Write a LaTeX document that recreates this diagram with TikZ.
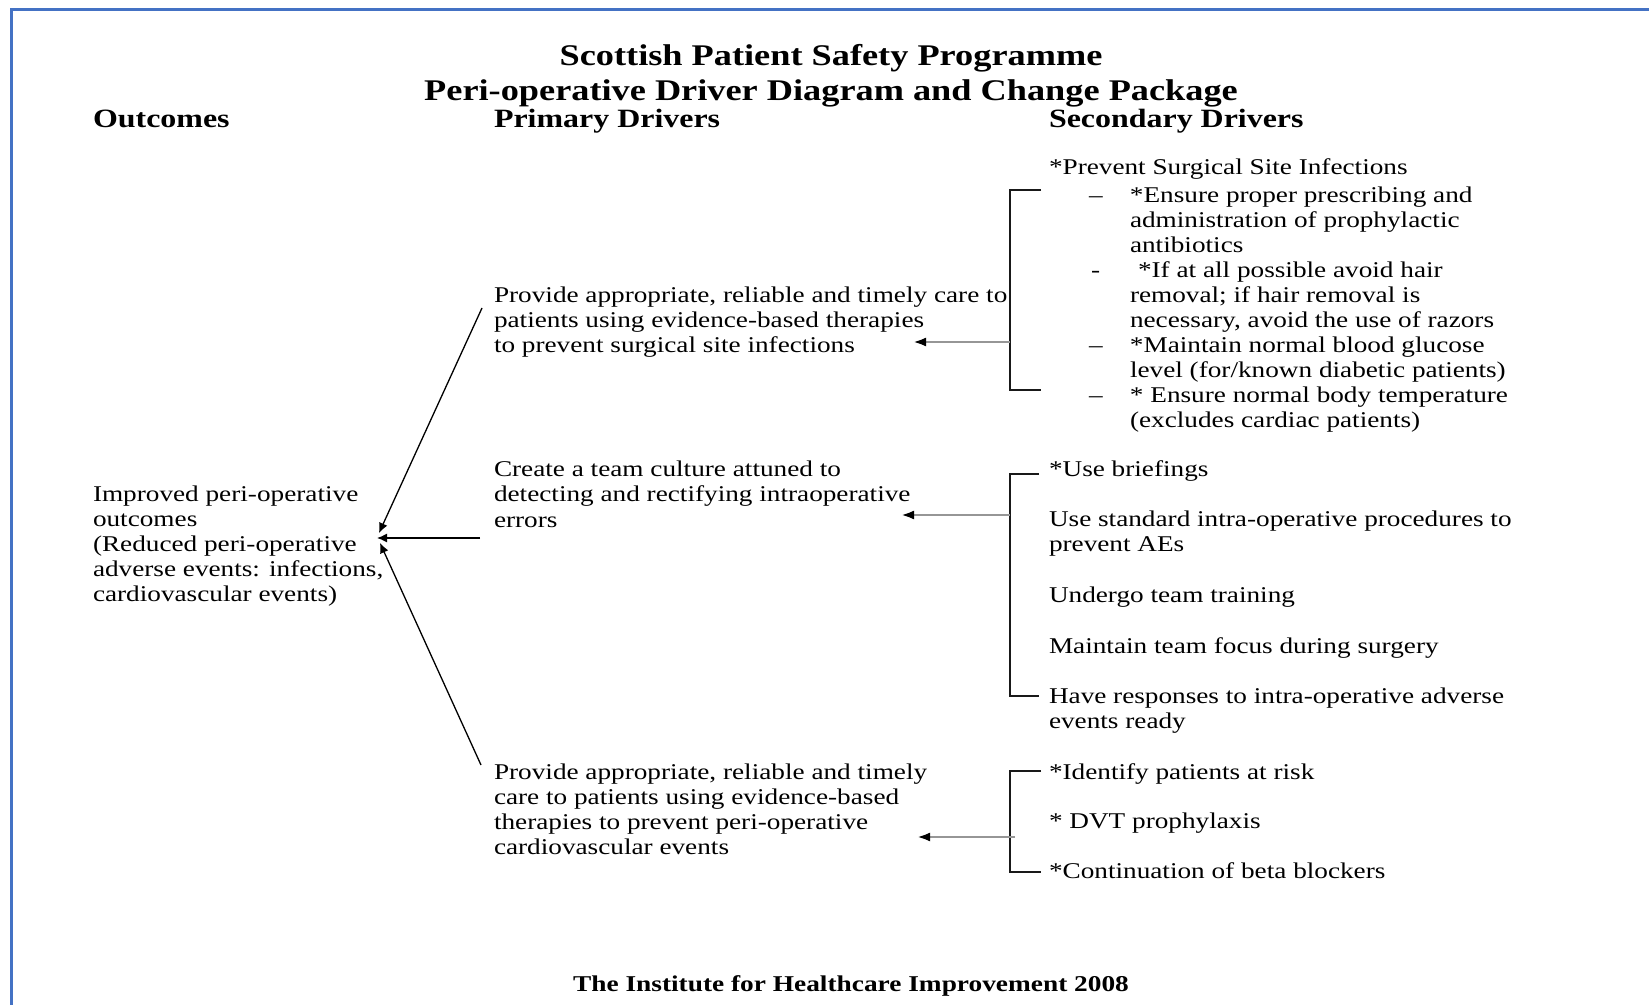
\documentclass[tikz,border=0pt]{standalone}
\usepackage{fontspec}
\setmainfont[FakeStretch=1.21]{Liberation Serif}
\usetikzlibrary{arrows.meta}
\definecolor{frameblue}{RGB}{68,114,196}
\definecolor{arrowgray}{RGB}{150,150,150}
\newcommand{\bodyfont}{\fontsize{11.25}{12.5}\selectfont}
\newcommand{\titlefont}{\fontsize{15}{17.25}\selectfont\bfseries}
\newcommand{\headfont}{\fontsize{13.2}{15}\selectfont\bfseries}
\newcommand{\footfont}{\fontsize{11.3}{13}\selectfont\bfseries}
\begin{document}
\begin{tikzpicture}[x=0.5pt,y=-0.5pt,
  txt/.style={inner sep=0pt,outer sep=0pt,align=left,font=\bodyfont},
  ttl/.style={inner sep=0pt,outer sep=0pt,font=\titlefont},
  head/.style={inner sep=0pt,outer sep=0pt,font=\headfont},
  foot/.style={inner sep=0pt,outer sep=0pt,font=\footfont},
  blackarrow/.style={draw=black,line width=0.65pt,-{Latex[length=5pt,width=4.5pt]}},
  grayarrow/.style={draw=arrowgray,line width=1.4pt,-{Latex[length=6.5pt,width=4.5pt,color=black]}},
  bracket/.style={draw=black!90,line width=1pt},
  frame/.style={draw=frameblue,line width=1.5pt}]
\useasboundingbox[fill=white] (0,0) rectangle (1649,1005);
\draw[frame] (11.5,1005) -- (11.5,10) -- (1649,10);

% titles and headings
\node[ttl,anchor=base] (t1) at (831,66) {Scottish Patient Safety Programme};
\node[ttl,anchor=base] (t2) at (831,100.5) {Peri-operative Driver Diagram and Change Package};
\node[head,anchor=base west] (hout) at (93,128) {Outcomes};
\node[head,anchor=base west] (hpri) at (494,128) {Primary Drivers};
\node[head,anchor=base west] (hsec) at (1049,128) {Secondary Drivers};

% outcome
\node[txt,anchor=north west] (out) at (93,483.5) {\strut Improved peri-operative\\outcomes\\(Reduced peri-operative\\adverse events: infections,\\cardiovascular events)};

% primary drivers
\node[txt,anchor=north west] (p1) at (494,285) {\strut Provide appropriate, reliable and timely care to\\patients using evidence-based therapies\\to prevent surgical site infections};
\node[txt,anchor=north west] (p2) at (494,459.5) {\strut Create a team culture attuned to\\detecting and rectifying intraoperative\\errors};
\node[txt,anchor=north west] (p3) at (494,761.5) {\strut Provide appropriate, reliable and timely\\care to patients using evidence-based\\therapies to prevent peri-operative\\cardiovascular events};

% secondary drivers 1
\node[txt,anchor=base west] (s1h) at (1049,175) {*Prevent Surgical Site Infections};
\node[txt,anchor=north west] (s1l) at (1089,185) {\begin{tabular}{@{}p{20.5pt}@{}l@{}}
–&*Ensure proper prescribing and\\
 &administration of prophylactic\\
 &antibiotics\\
\hspace{1pt}-&\hspace{4pt}*If at all possible avoid hair\\
 &removal; if hair removal is\\
 &necessary, avoid the use of razors\\
–&*Maintain normal blood glucose\\
 &level (for/known diabetic patients)\\
–&* Ensure normal body temperature\\
 &(excludes cardiac patients)
\end{tabular}};

% secondary drivers 2
\node[txt,anchor=base west] (s2a) at (1049,477) {*Use briefings};
\node[txt,anchor=north west] (s2b) at (1049,509) {\strut Use standard intra-operative procedures to\\prevent AEs};
\node[txt,anchor=base west] (s2c) at (1049,602) {Undergo team training};
\node[txt,anchor=base west] (s2d) at (1049,653) {Maintain team focus during surgery};
\node[txt,anchor=north west] (s2e) at (1049,685.5) {\strut Have responses to intra-operative adverse\\events ready};

% secondary drivers 3
\node[txt,anchor=base west] (s3a) at (1049,779) {*Identify patients at risk};
\node[txt,anchor=base west] (s3b) at (1049,828) {* DVT prophylaxis};
\node[txt,anchor=base west] (s3c) at (1049,878) {*Continuation of beta blockers};

% brackets
\coordinate (b1t) at (1010,190);
\coordinate (b1b) at (1010,390);
\coordinate (b2t) at (1010,474);
\coordinate (b2b) at (1010,696);
\coordinate (b3t) at (1010,771);
\coordinate (b3b) at (1010,872);
\draw[bracket] (1041,190) -- (b1t) -- (b1b) -- (1041,390);
\draw[bracket] (1039,474) -- (b2t) -- (b2b) -- (1039,696);
\draw[bracket] (1041,771) -- (b3t) -- (b3b) -- (1041,872);

% gray arrows from brackets to primary drivers
\coordinate (g1s) at (1010,342);
\coordinate (g1e) at (913,342);
\coordinate (g2s) at (1010,515);
\coordinate (g2e) at (901,515);
\coordinate (g3s) at (1015,837);
\coordinate (g3e) at (917,837);
\draw[grayarrow] (g1s) -- (g1e);
\draw[grayarrow] (g2s) -- (g2e);
\draw[grayarrow] (g3s) -- (g3e);

% black arrows from primary drivers to outcome
\coordinate (k1s) at (482,308);
\coordinate (k1e) at (379,533);
\coordinate (k2s) at (480,538);
\coordinate (k2e) at (377,538);
\coordinate (k3s) at (481,765);
\coordinate (k3e) at (380,543);
\draw[blackarrow] (k1s) -- (k1e);
\draw[blackarrow] (k2s) -- (k2e);
\draw[blackarrow] (k3s) -- (k3e);

% footer
\node[foot,anchor=base] (ft) at (851,991) {The Institute for Healthcare Improvement 2008};
\end{tikzpicture}
\end{document}
